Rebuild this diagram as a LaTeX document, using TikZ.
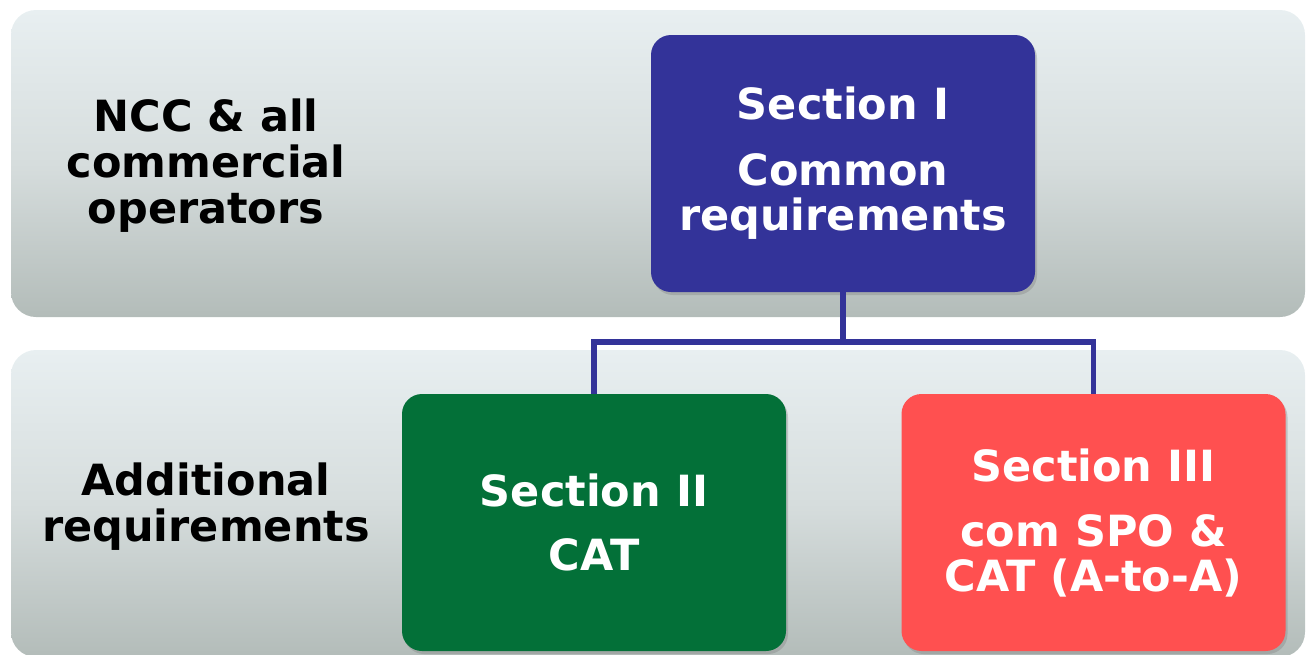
\documentclass[tikz,border=0pt]{standalone}
\usepackage{fontspec}
\setmainfont{DejaVu Sans}
\usetikzlibrary{positioning, shadows}

\definecolor{secblue}{HTML}{333399}
\definecolor{secgreen}{HTML}{037038}
\definecolor{secred}{HTML}{FF5050}
\definecolor{bandtop}{HTML}{E8EFF1}
\definecolor{bandmid}{HTML}{D6DDDD}
\definecolor{bandbot}{HTML}{B3BCB9}

\tikzset{
    band/.style={
        rounded corners=25pt,
        top color=bandtop, bottom color=bandbot, middle color=bandmid,
        minimum width=1294pt, minimum height=307pt,
        inner sep=0pt
    },
    secbox/.style={
        rounded corners=20pt,
        minimum width=384pt, minimum height=257pt,
        text=white, align=center,
        font=\fontsize{43}{45}\selectfont\bfseries,
        drop shadow={shadow xshift=2pt, shadow yshift=-3pt, opacity=0.35}
    },
    sidelabel/.style={
        align=center,
        font=\fontsize{43}{46}\selectfont\bfseries
    },
    conn/.style={draw=secblue, line width=5.5pt}
}

\begin{document}
\begin{tikzpicture}[x=1pt, y=-1pt]
    \useasboundingbox (0,0) rectangle (1307,654);
    \clip (0,0) rectangle (1307,654);

    % the two grey bands
    \node[band] (topband) at (658,163.5) {};
    \node[band] (botband) at (658,503.5) {};

    % labels on the left
    \node[sidelabel] (toplabel) at (206,166) {NCC \& all\\commercial\\operators};
    \node[sidelabel] (botlabel) at (206,507) {Additional\\requirements};

    % section boxes
    \node[secbox, fill=secblue] (sec1) at (843,163.5) {
        Section I\\[21pt]
        Common\\
        requirements
    };
    \node[secbox, fill=secgreen] (sec2) at (594,522.5) {
        Section II\\[19pt]
        CAT
    };
    \node[secbox, fill=secred] (sec3) at (1093.5,522.5) {
        Section III\\[20pt]
        com SPO \&\\
        CAT (A-to-A)
    };

    % connectors
    \draw[conn] (sec1.south) -- ++(0,50) -| (sec2.north);
    \draw[conn] (sec1.south) -- ++(0,50) -| (sec3.north);
\end{tikzpicture}
\end{document}
